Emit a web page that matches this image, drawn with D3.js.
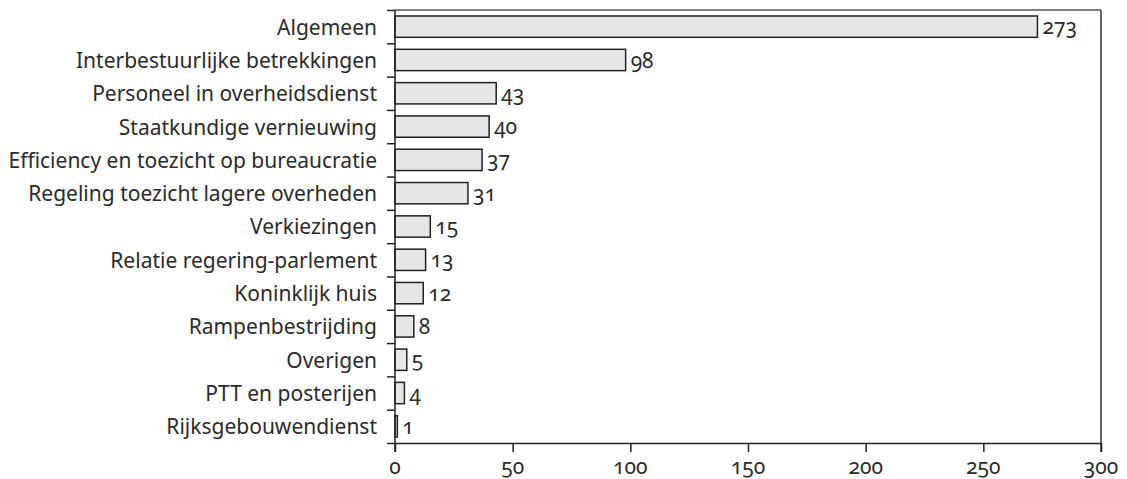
<!DOCTYPE html>
<html>
<head>
<meta charset="utf-8">
<script src="https://cdn.jsdelivr.net/npm/d3@7"></script>
<style>
  body { margin: 0; background: #fff; }
  svg text { font-family: "Noto Sans", sans-serif; fill: #2b2b2b; font-variant-numeric: oldstyle-nums; font-feature-settings: "onum" 1; }
</style>
</head>
<body>
<div id="chart"></div>
<script>
// categories and values, top to bottom
const categories = [
  "Algemeen",
  "Interbestuurlijke betrekkingen",
  "Personeel in overheidsdienst",
  "Staatkundige vernieuwing",
  "Efficiency en toezicht op bureaucratie",
  "Regeling toezicht lagere overheden",
  "Verkiezingen",
  "Relatie regering-parlement",
  "Koninklijk huis",
  "Rampenbestrijding",
  "Overigen",
  "PTT en posterijen",
  "Rijksgebouwendienst"
];
const values = [273, 98, 43, 40, 37, 31, 15, 13, 12, 8, 5, 4, 1];
const xTicks = [0, 50, 100, 150, 200, 250, 300];

const W = 1127, H = 479;
const margin = { top: 10, right: 26, bottom: 36, left: 395 };
const w = W - margin.left - margin.right;
const h = H - margin.top - margin.bottom;
const fs = "21px";

const svg = d3.select("#chart").append("svg")
  .attr("width", W)
  .attr("height", H);

const g = svg.append("g")
  .attr("transform", `translate(${margin.left}, ${margin.top})`);

// scales
const x = d3.scaleLinear().domain([0, 300]).range([0, w]);
const y = d3.scaleBand().domain(categories).range([0, h]).paddingInner(0.36).paddingOuter(0.18);
// band boundaries for the left ticks
const yEdge = d3.scaleLinear().domain([0, categories.length]).range([0, h]);

// frame: top and right lines
g.append("line")
  .attr("x1", 0).attr("x2", w)
  .attr("y1", 0).attr("y2", 0)
  .attr("stroke", "#555").attr("stroke-width", 1.5);
g.append("line")
  .attr("x1", w).attr("x2", w)
  .attr("y1", 0).attr("y2", h + 9)
  .attr("stroke", "#333").attr("stroke-width", 1.5);

// bars
g.selectAll("rect.bar")
  .data(values)
  .enter()
  .append("rect")
  .attr("class", "bar")
  .attr("x", x(0))
  .attr("y", (d, i) => y(categories[i]))
  .attr("width", d => x(d) - x(0))
  .attr("height", y.bandwidth())
  .attr("fill", "#e6e6e6")
  .attr("stroke", "#222")
  .attr("stroke-width", 1.5);

// value labels
g.selectAll("text.val")
  .data(values)
  .enter()
  .append("text")
  .attr("class", "val")
  .attr("x", d => x(d) + 5)
  .attr("y", (d, i) => y(categories[i]) + y.bandwidth() / 2)
  .attr("dy", "0.36em")
  .attr("font-size", fs)
  .text(d => d);

// category labels
g.selectAll("text.cat")
  .data(categories)
  .enter()
  .append("text")
  .attr("class", "cat")
  .attr("x", -18)
  .attr("y", d => y(d) + y.bandwidth() / 2)
  .attr("dy", "0.38em")
  .attr("text-anchor", "end")
  .attr("font-size", fs)
  .text(d => d);

// left axis: ticks on band edges, no labels
const yAxis = d3.axisLeft(yEdge)
  .tickValues(d3.range(categories.length + 1))
  .tickSize(8)
  .tickFormat("");
g.append("g")
  .call(yAxis)
  .call(a => a.select(".domain").attr("d", `M0,0V${h + 9}`))
  .selectAll("line, path").attr("stroke", "#222").attr("stroke-width", 1.5);

// bottom axis (labels drawn separately so they keep old-style figures)
const xAxis = d3.axisBottom(x)
  .tickValues(xTicks)
  .tickSize(9)
  .tickFormat("")
  .tickSizeOuter(0);
const xa = g.append("g")
  .attr("transform", `translate(0, ${h})`)
  .call(xAxis);
xa.selectAll("line, path").attr("stroke", "#222").attr("stroke-width", 1.5);

g.selectAll("text.xtick")
  .data(xTicks)
  .enter()
  .append("text")
  .attr("class", "xtick")
  .attr("x", d => x(d))
  .attr("y", h + 31)
  .attr("text-anchor", "middle")
  .attr("font-size", fs)
  .text(d => d);
</script>
</body>
</html>
